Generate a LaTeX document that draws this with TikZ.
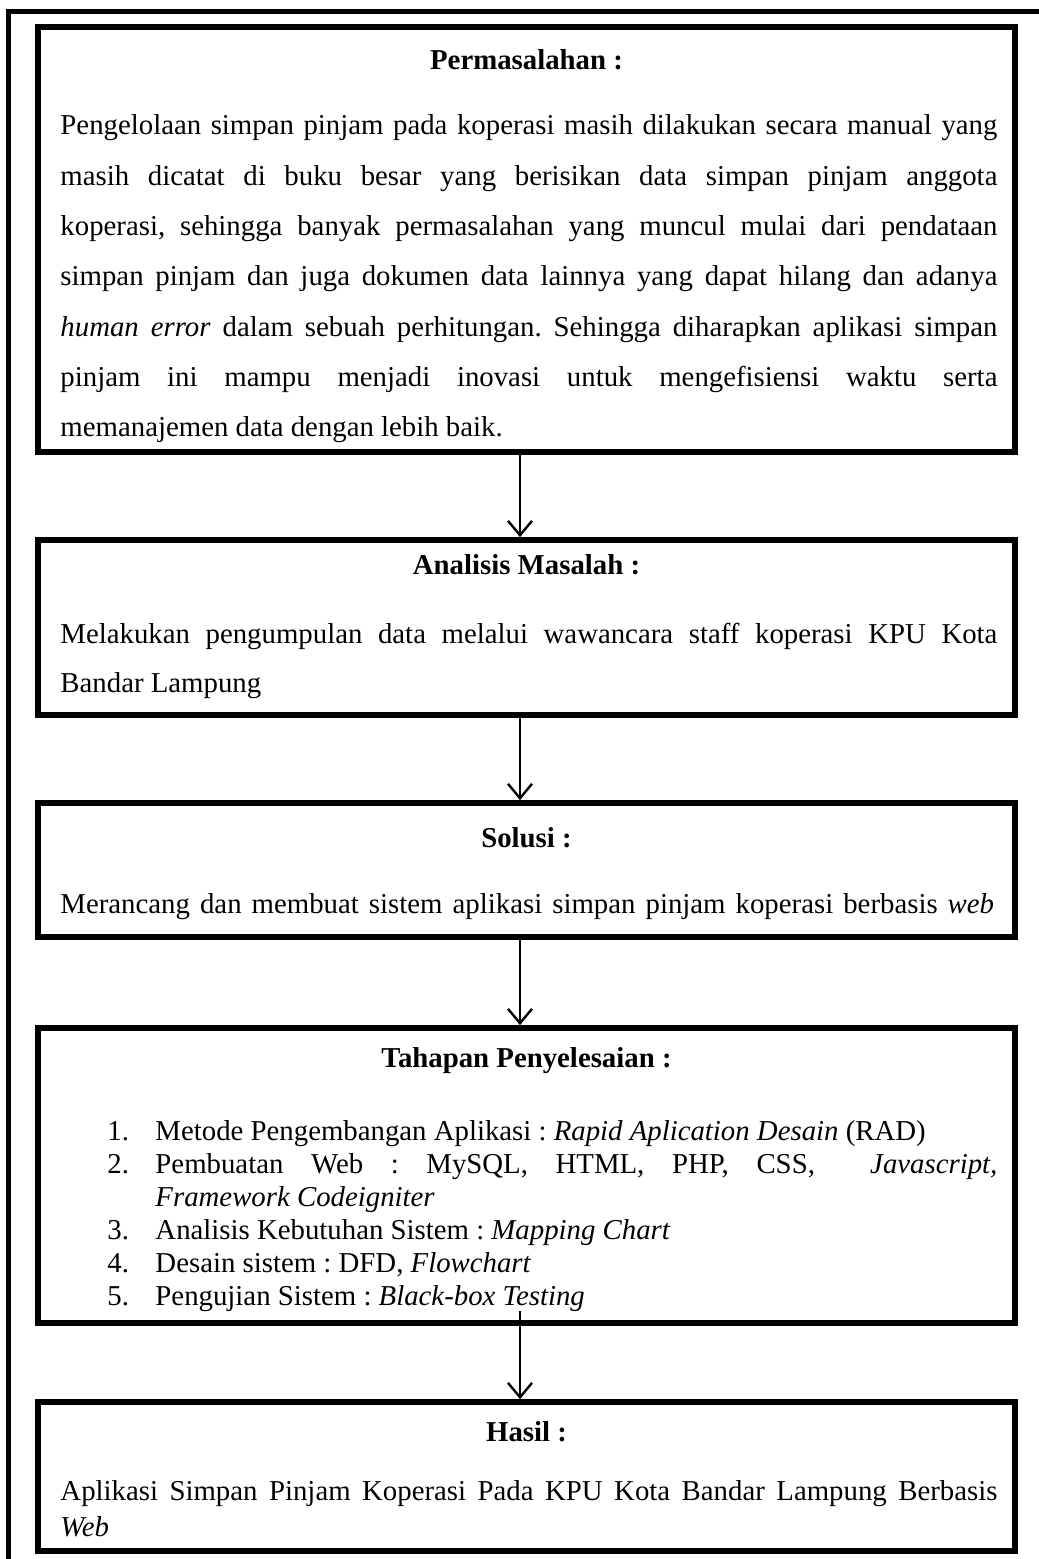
\documentclass[tikz,border=0pt]{standalone}
\usepackage{fontspec}
\setmainfont{Liberation Serif}
\usepackage{tikz}
\usetikzlibrary{arrows.meta, fit}

\hyphenpenalty=10000
\exhyphenpenalty=10000
\frenchspacing
\AtBeginDocument{\fontsize{12}{14.4}\selectfont}

\tikzset{
	frame/.style={line width=2.4pt},
	panel/.style={draw, line width=2.4pt, inner sep=0pt},
	heading/.style={anchor=base, inner sep=0pt, font=\bfseries},
	body/.style={anchor=base west, inner sep=0pt, text width=390.4pt, align=justify,
		font=\fontsize{12}{#1}\selectfont},
	body/.default=20.9pt,
	num/.style={anchor=base west, inner sep=0pt},
	flow/.style={line width=1pt, -{Straight Barb[length=6pt,width=10pt]}}
}

\begin{document}
\begin{tikzpicture}[x=0.41667pt, y=-0.41667pt]
	\useasboundingbox (0,0) rectangle (1038,1559);
	% outer frame, right and bottom side fall off the page
	\draw[frame] (1045,11.5) -- (8.5,11.5) -- (8.5,1566);

	% the five boxes
	\node[panel, fit={(38,27) (1015,452)}] (perm) {};
	\node[panel, fit={(38,540) (1015,715)}] (anal) {};
	\node[panel, fit={(38,803) (1015,937)}] (solu) {};
	\node[panel, fit={(38,1028) (1015,1323)}] (tahap) {};
	\node[panel, fit={(38,1402) (1015,1551)}] (hasil) {};

	% titles
	\node[heading] (permT) at (526.5,70) {Permasalahan :};
	\node[heading] (analT) at (526.5,574) {Analisis Masalah :};
	\node[heading] (soluT) at (526.5,847) {Solusi :};
	\node[heading] (tahapT) at (526.5,1067) {Tahapan Penyelesaian :};
	\node[heading] (hasilT) at (526.5,1441) {Hasil :};

	% texts
	\node[body=20.96pt] (permB) at (60,135) {Pengelolaan simpan pinjam pada koperasi masih dilakukan secara manual yang\linebreak
		masih dicatat di buku besar yang berisikan data simpan pinjam anggota\linebreak
		koperasi, sehingga banyak permasalahan yang muncul mulai dari pendataan\linebreak
		simpan pinjam dan juga dokumen data lainnya yang dapat hilang dan adanya\linebreak
		\textit{human error} dalam sebuah perhitungan. Sehingga diharapkan aplikasi simpan\linebreak
		pinjam ini mampu menjadi inovasi untuk mengefisiensi waktu serta\linebreak
		memanajemen data dengan lebih baik.};
	\node[body=20.83pt] (analB) at (60,643) {Melakukan pengumpulan data melalui wawancara staff koperasi KPU Kota\linebreak
		Bandar Lampung};
	\node[num] (soluB) at (60,913) {\makebox[389pt][s]{Merancang dan membuat sistem aplikasi simpan pinjam koperasi berbasis \textit{web}}};

	\foreach \k/\yy in {1/1140, 2/1173, 3/1239, 4/1272, 5/1305}
		\node[num] (num\k) at (107,\yy) {\k.};
	\node[num] (it1) at (155,1140) {Metode Pengembangan Aplikasi : \textit{Rapid Aplication Desain} (RAD)};
	\node[body=13.75pt, text width=350.8pt] (it2) at (155,1173) {Pembuatan Web : MySQL, HTML, PHP, CSS, \ \textit{Javascript,}\linebreak
		\textit{Framework Codeigniter}};
	\node[num] (it3) at (155,1239) {Analisis Kebutuhan Sistem : \textit{Mapping Chart}};
	\node[num] (it4) at (155,1272) {Desain sistem : DFD, \textit{Flowchart}};
	\node[num] (it5) at (155,1305) {Pengujian Sistem : \textit{Black-box Testing}};

	\node[body=15.4pt] (hasilB) at (60,1500) {Aplikasi Simpan Pinjam Koperasi Pada KPU Kota Bandar Lampung Berbasis\linebreak
		\textit{Web}};

	% arrows
	\coordinate (axis) at (520,0);
	\draw[flow] (perm.south -| axis) -- (anal.north -| axis);
	\draw[flow] (anal.south -| axis) -- (solu.north -| axis);
	\draw[flow] (solu.south -| axis) -- (tahap.north -| axis);
	\draw[flow] ([yshift=6pt]tahap.south -| axis) -- (hasil.north -| axis);
\end{tikzpicture}
\end{document}
